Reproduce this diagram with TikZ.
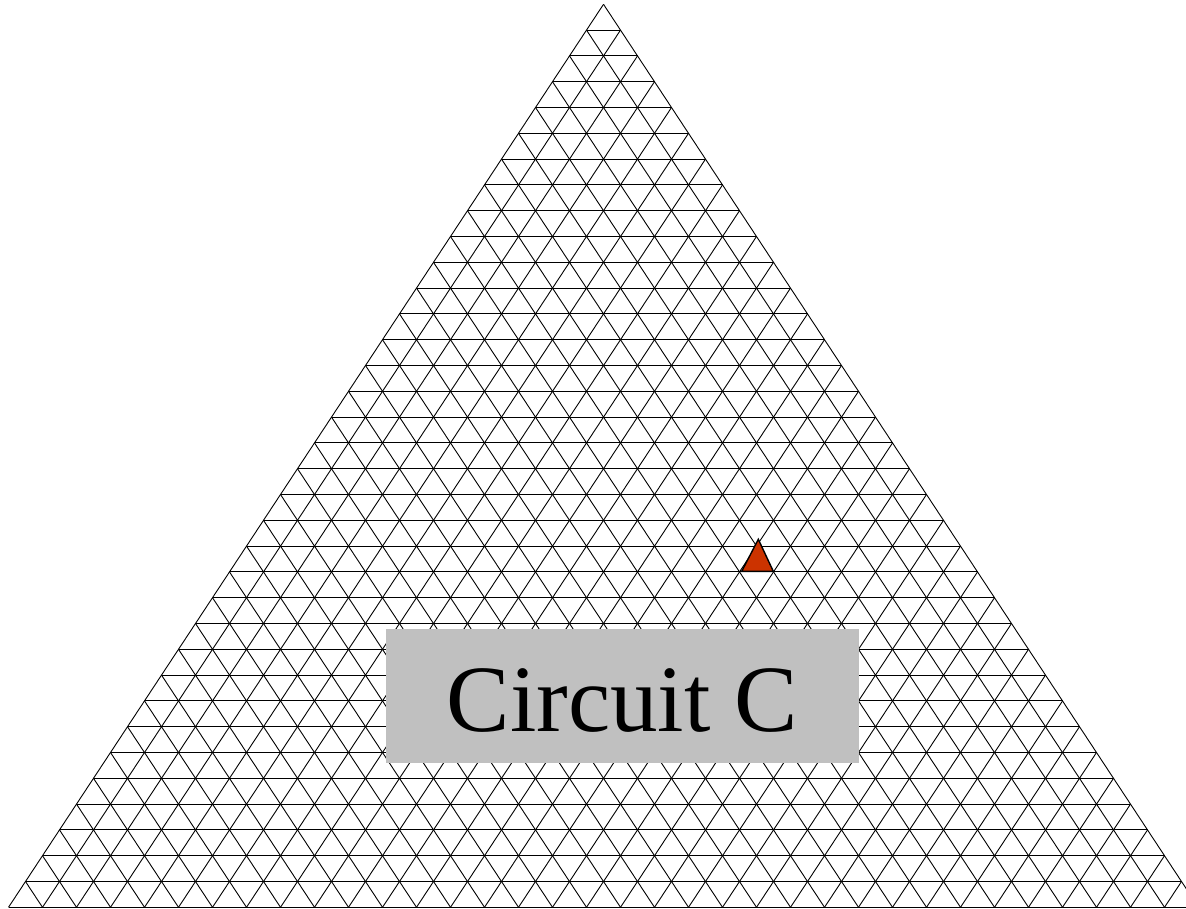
\documentclass[tikz,border=0pt]{standalone}
\usepackage{fontspec}
\setmainfont{Liberation Serif}
\definecolor{boxgray}{HTML}{C0C0C0}
\definecolor{markred}{HTML}{CC3300}
\tikzset{
  gridline/.style={black, line width=0.9pt},
  marker/.style={fill=markred, draw=black, line width=1.4pt, line join=miter},
  labelbox/.style={fill=boxgray, draw=none, inner sep=0pt, minimum width=472.7pt, minimum height=134.3pt},
  labelfont/.style={font=\fontsize{95}{100}\selectfont, inner sep=0pt}
}
\begin{document}
\begin{tikzpicture}[x=1pt,y=1pt]
\useasboundingbox (0,0) rectangle (1186,-908);
\clip (0,0) rectangle (1186,-908);
% horizontal lines
\foreach \k in {1,...,35}{
  \draw[gridline] ({603.5-17*\k},{-4.3-25.8*\k}) -- ({603.5+17*\k},{-4.3-25.8*\k});
}
% slanted lines
\foreach \j in {0,...,35}{
  \draw[gridline] ({8.5+34*\j},-907.3) -- ({8.5+34*\j+17*(35-\j)},{-907.3+25.8*(35-\j)});
  \draw[gridline] ({8.5+34*\j},-907.3) -- ({8.5+17*\j},{-907.3+25.8*\j});
}
% red marker
\coordinate (mA) at (758.3,-539.3);
\coordinate (mB) at (741.7,-571.3);
\coordinate (mC) at (773.3,-571.3);
\draw[marker] (mA) -- (mB) -- (mC) -- cycle;
% label
\node[labelbox] (label) at (622.3,-696.2) {};
\node[labelfont, anchor=base] (labeltext) at (622.3,-731.5) {Circuit C};
\end{tikzpicture}
\end{document}
